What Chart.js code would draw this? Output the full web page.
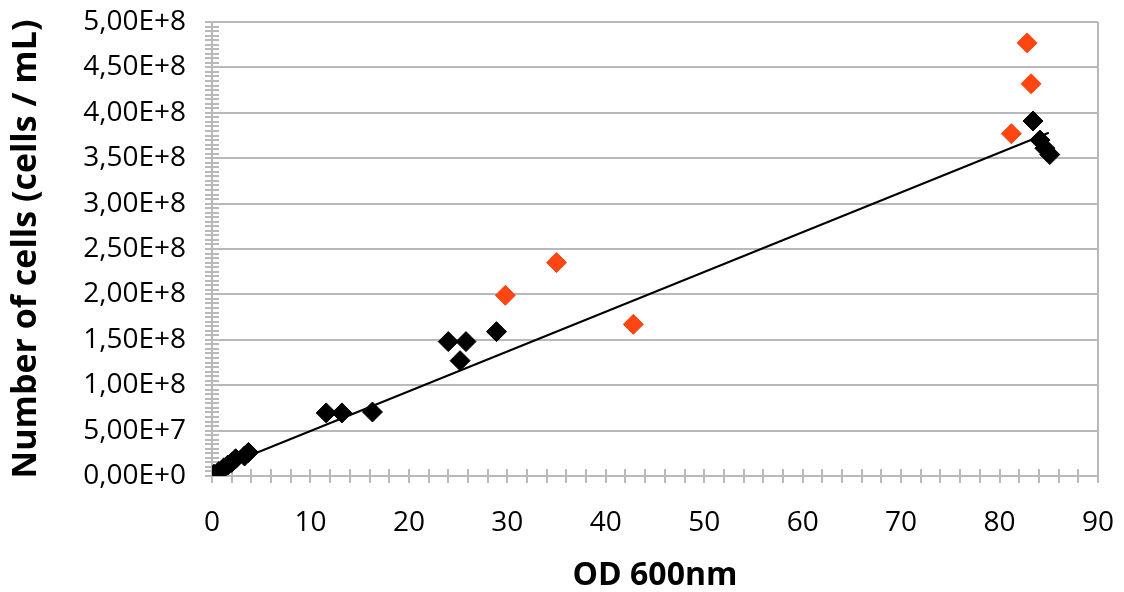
<!DOCTYPE html>
<html>
<head>
<meta charset="utf-8">
<script src="https://cdn.jsdelivr.net/npm/chart.js@4"></script>
<style>
  html, body { margin: 0; padding: 0; background: #fff; }
  #wrap { width: 1124px; height: 592px; }
</style>
</head>
<body>
<div id="wrap"><canvas id="chart"></canvas></div>
<script>
// data
const blackX = [0.2, 0.7, 1.2, 1.6, 2.0, 2.4, 3.3, 3.7, 11.6, 13.2, 16.3, 24.0, 25.2, 25.8, 28.9, 83.4, 84.1, 84.6, 85.1];
const blackY = [2e6, 5e6, 9e6, 1.2e7, 1.5e7, 1.9e7, 2.2e7, 2.6e7, 6.95e7, 6.95e7, 7.05e7, 1.48e8, 1.27e8, 1.48e8, 1.59e8, 3.91e8, 3.70e8, 3.61e8, 3.54e8];
const redX = [29.8, 35.0, 42.8, 81.2, 83.2, 82.8];
const redY = [1.99e8, 2.35e8, 1.67e8, 3.77e8, 4.32e8, 4.77e8];
const trendX = [0.2, 85.0];
const trendY = [6.6e6, 3.78e8];

const xTitle = "OD 600nm";
const yTitle = "Number of cells (cells / mL)";

const gridGray = "#b9b9b9";
const font = "'Open Sans', 'Noto Sans', sans-serif";

const toPoints = (xs, ys) => xs.map((x, i) => ({ x: x, y: ys[i] }));

// 5,00E+8 style labels
function sciLabel(v) {
  if (v === 0) return "0,00E+0";
  const e = Math.floor(Math.log10(v) + 1e-9);
  const m = v / Math.pow(10, e);
  return m.toFixed(2).replace(".", ",") + "E+" + e;
}

// tick marks crossing the axes (major + minor)
const axisTicks = {
  id: "axisTicks",
  beforeDatasetsDraw(chart) {
    const ctx = chart.ctx;
    const xs = chart.scales.x;
    const ys = chart.scales.y;
    const area = chart.chartArea;
    ctx.save();
    ctx.strokeStyle = gridGray;
    ctx.lineWidth = 2;
    ctx.beginPath();
    for (let v = 0; v <= 5e8 + 1; v += 5e6) {
      const py = Math.round(ys.getPixelForValue(v));
      ctx.moveTo(area.left - 7, py);
      ctx.lineTo(area.left + 7, py);
    }
    for (let v = 0; v <= 90; v += 2) {
      const px = Math.round(xs.getPixelForValue(v));
      ctx.moveTo(px, area.bottom - 7);
      ctx.lineTo(px, area.bottom + 7);
    }
    ctx.stroke();
    ctx.restore();
  },
};

new Chart(document.getElementById("chart"), {
  type: "scatter",
  data: {
    datasets: [
      {
        label: "trend",
        type: "line",
        data: toPoints(trendX, trendY),
        borderColor: "#000",
        borderWidth: 2,
        pointRadius: 0,
        fill: false,
        order: 0,
      },
      {
        label: "red",
        data: toPoints(redX, redY),
        pointStyle: "rectRot",
        pointRadius: 10,
        backgroundColor: "#ff4511",
        borderColor: "#ff4511",
        borderWidth: 1,
        order: 2,
      },
      {
        label: "black",
        data: toPoints(blackX, blackY),
        pointStyle: "rectRot",
        pointRadius: 10,
        backgroundColor: "#000",
        borderColor: "#000",
        borderWidth: 1,
        order: 1,
      },
    ],
  },
  options: {
    responsive: true,
    maintainAspectRatio: false,
    animation: false,
    layout: { padding: { top: 22, right: 26, left: 0, bottom: 0 } },
    plugins: {
      legend: { display: false },
      tooltip: { enabled: false },
    },
    scales: {
      x: {
        type: "linear",
        min: 0,
        max: 90,
        afterFit: (s) => { s.height = 116; },
        ticks: {
          stepSize: 10,
          color: "#000",
          padding: 0,
          font: { family: font, size: 28 },
        },
        grid: {
          drawTicks: true,
          tickLength: 30,
          tickColor: "rgba(0,0,0,0)",
          lineWidth: 2,
          color: (c) => (c.tick && c.tick.value === 90 ? gridGray : "rgba(0,0,0,0)"),
        },
        border: { color: gridGray, width: 2 },
        title: {
          display: true,
          text: xTitle,
          color: "#000",
          font: { family: font, size: 32, weight: "bold", lineHeight: 1.0 },
          padding: { top: 0, bottom: 0 },
        },
      },
      y: {
        type: "linear",
        min: 0,
        max: 5e8,
        afterFit: (s) => { s.width = 212; },
        ticks: {
          stepSize: 5e7,
          color: "#000",
          padding: 0,
          font: { family: font, size: 28 },
          callback: (v) => sciLabel(v),
        },
        grid: {
          drawTicks: true,
          tickLength: 26,
          tickColor: "rgba(0,0,0,0)",
          lineWidth: 2,
          color: gridGray,
        },
        border: { color: gridGray, width: 2 },
        title: {
          display: true,
          text: yTitle,
          color: "#000",
          font: { family: font, size: 34, weight: "bold" },
          padding: { top: 6, bottom: 0 },
        },
      },
    },
  },
  plugins: [axisTicks],
});
</script>
</body>
</html>
